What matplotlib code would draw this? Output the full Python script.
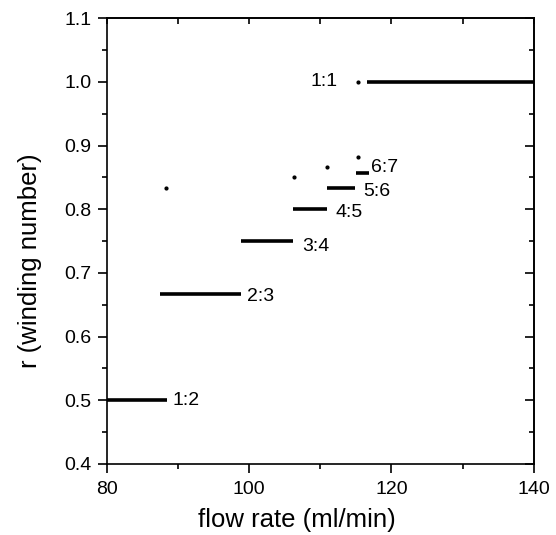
import matplotlib
matplotlib.use('Agg')
import matplotlib.pyplot as plt
from matplotlib.ticker import MultipleLocator, FormatStrFormatter

plt.rcParams['font.family'] = ['Liberation Sans', 'DejaVu Sans']

# locked plateaus: (start flow, end flow, winding number)
lock_start = [80.0, 87.5, 98.9, 106.2, 110.9, 115.0, 116.5]
lock_end = [88.4, 98.9, 106.2, 111.0, 114.9, 116.8, 140.0]
lock_r = [1/2, 2/3, 3/4, 4/5, 5/6, 6/7, 1.0]
lock_names = ['1:2', '2:3', '3:4', '4:5', '5:6', '6:7', '1:1']
label_x = [89.2, 99.7, 107.4, 112.1, 116.1, 117.2, 112.5]
label_y = [0.500, 0.663, 0.741, 0.795, 0.828, 0.866, 1.000]

# isolated points
dot_x = [88.3, 106.3, 111.0, 115.3, 115.3]
dot_r = [0.833, 0.850, 0.867, 0.882, 1.000]

fig = plt.figure(figsize=(5.56, 5.35), dpi=100)
ax = fig.add_axes([0.192, 0.133, 0.768, 0.833])

for x0, x1, r in zip(lock_start, lock_end, lock_r):
    ax.plot([x0, x1], [r, r], color='black', lw=2.6, solid_capstyle='butt')

ax.scatter(dot_x, dot_r, s=4, color='black', zorder=3)

for name, lx, ly in zip(lock_names, label_x, label_y):
    ha = 'right' if name == '1:1' else 'left'
    ax.text(lx, ly, name, fontsize=14, ha=ha, va='center')

ax.set_xlim(80, 140)
ax.set_ylim(0.4, 1.1)
ax.xaxis.set_major_locator(MultipleLocator(20))
ax.xaxis.set_minor_locator(MultipleLocator(10))
ax.yaxis.set_major_locator(MultipleLocator(0.1))
ax.yaxis.set_minor_locator(MultipleLocator(0.05))
ax.yaxis.set_major_formatter(FormatStrFormatter('%.1f'))

ax.tick_params(which='both', direction='out', top=False, right=False,
               labelsize=14, width=1.2)
ax.tick_params(which='major', length=6.5)
ax.tick_params(which='minor', length=3.5)
ax.tick_params(axis='x', which='major', pad=6)
ax.tick_params(axis='y', which='major', pad=4.5)

# inward ticks on top and right
ax_top = ax.secondary_xaxis('top')
ax_top.xaxis.set_major_locator(MultipleLocator(10))
ax_top.tick_params(direction='in', length=4, width=1.2, labeltop=False)
ax_right = ax.secondary_yaxis('right')
ax_right.yaxis.set_major_locator(MultipleLocator(0.1))
ax_right.yaxis.set_minor_locator(MultipleLocator(0.05))
ax_right.tick_params(which='major', direction='in', length=6.5, width=1.2, labelright=False)
ax_right.tick_params(which='minor', direction='in', length=3.5, width=1.2)

for s in ax.spines.values():
    s.set_linewidth(1.2)
ax_top.spines['top'].set_linewidth(1.2)
ax_right.spines['right'].set_linewidth(1.2)

ax.set_xlabel('flow rate (ml/min)', fontsize=18.5)
ax.set_ylabel('r (winding number)', fontsize=18.5)
ax.xaxis.set_label_coords(0.445, -0.098)
ax.yaxis.set_label_coords(-0.152, 0.455)

fig.savefig('out.png', dpi=100)
